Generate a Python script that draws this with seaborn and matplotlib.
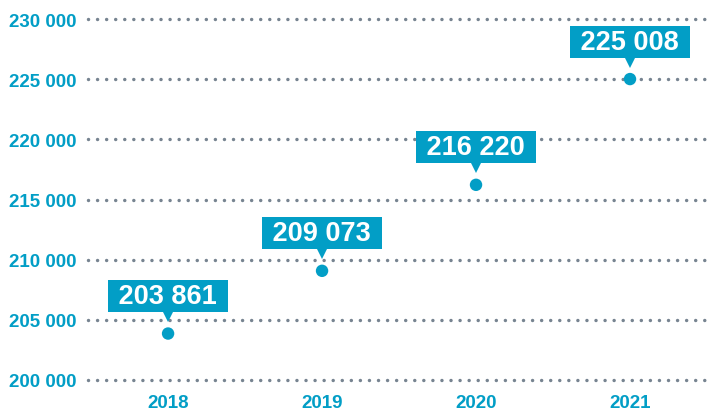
import matplotlib
matplotlib.use("Agg")
import matplotlib.pyplot as plt
import matplotlib.transforms as mtransforms
import seaborn as sns
import pandas as pd

years = ["2018", "2019", "2020", "2021"]
values = [203861, 209073, 216220, 225008]
yticks = [200000, 205000, 210000, 215000, 220000, 225000, 230000]

blue = "#029ec6"
grey = "#778491"

sns.set_style("white")
plt.rcParams["font.family"] = ["Liberation Sans", "DejaVu Sans"]

df = pd.DataFrame({"year": years, "value": values})

fig = plt.figure(figsize=(7.07, 4.14), dpi=100)
ax = fig.add_axes([88 / 707, 1 - 381 / 414, 1 - 88 / 707, (381 - 20) / 414])

for t in yticks:
    ax.axhline(t, color=grey, lw=2.5, linestyle=(0, (0.01, 2.6)),
               dash_capstyle="round", clip_on=False, zorder=1)

sns.scatterplot(data=df, x="year", y="value", color=blue, s=80,
                edgecolor="none", ax=ax, zorder=3, clip_on=False)

for i, v in enumerate(values):
    label = " " + f"{v:,}".replace(",", " ") + " "
    ax.annotate(label, xy=(i, v), xytext=(0, 17.6), textcoords="offset points",
                ha="center", va="bottom", color="white", fontsize=19.5,
                fontweight="bold", zorder=5,
                bbox=dict(boxstyle="square,pad=0.11", fc=blue, ec="none"))
    tr = mtransforms.offset_copy(ax.transData, fig=fig, x=0, y=12.5, units="points")
    ax.plot([i], [v], marker="v", markersize=9, color=blue, transform=tr,
            zorder=4, clip_on=False, markeredgewidth=0)

ax.set_xlim(-0.52, 3.5)
ax.set_ylim(200000, 230000)
ax.set_yticks(yticks)
ax.set_yticklabels([f"{t:,}".replace(",", " ") for t in yticks])
ax.set_xlabel("")
ax.set_ylabel("")
ax.tick_params(axis="both", length=0, labelcolor=blue, labelsize=13.5)
ax.tick_params(axis="y", pad=8)
ax.tick_params(axis="x", pad=10)
for lab in ax.get_xticklabels() + ax.get_yticklabels():
    lab.set_fontweight("bold")
sns.despine(ax=ax, left=True, bottom=True)

fig.savefig("out.png", dpi=100)
